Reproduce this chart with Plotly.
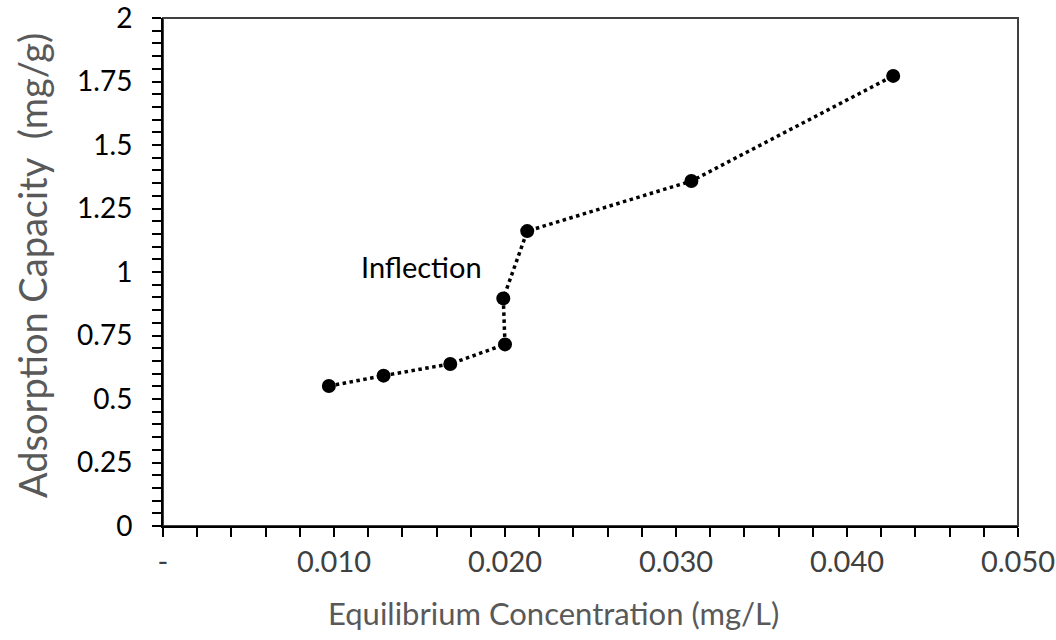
import plotly.graph_objects as go

conc = [0.0097, 0.0129, 0.0168, 0.0200, 0.0199, 0.0213, 0.0309, 0.0427]
capacity = [0.551, 0.592, 0.638, 0.715, 0.896, 1.161, 1.358, 1.772]

x_tickvals = [0, 0.01, 0.02, 0.03, 0.04, 0.05]
x_ticktext = ["-", "0.010", "0.020", "0.030", "0.040", "0.050"]
y_tickvals = [0, 0.25, 0.5, 0.75, 1, 1.25, 1.5, 1.75, 2]
y_ticktext = ["0", "0.25", "0.5", "0.75", "1", "1.25", "1.5", "1.75", "2"]

FONT = "Lato"

fig = go.Figure()
fig.add_trace(go.Scatter(
    x=conc, y=capacity, mode="lines+markers",
    line=dict(color="black", width=3.5, dash="3.5px,3.5px"),
    marker=dict(color="black", size=14),
    showlegend=False,
))

fig.add_annotation(x=0.0151, y=1.02, xref="x", yref="y", text="Inflection",
                   showarrow=False, font=dict(family=FONT, size=29, color="black"))

# axis titles
fig.add_annotation(x=(553 - 163) / 855, y=(526 - 613) / 508, xref="paper", yref="paper",
                   text="Equilibrium Concentration (mg/L)", showarrow=False,
                   xanchor="center", yanchor="middle",
                   font=dict(family=FONT, size=31, color="#595959"))
fig.add_annotation(x=(32 - 163) / 855, y=(526 - 266) / 508, xref="paper", yref="paper",
                   text="Adsorption Capacity  (mg/g)", showarrow=False, textangle=-90,
                   xanchor="center", yanchor="middle",
                   font=dict(family=FONT, size=38, color="#595959"))

fig.add_shape(type="rect", xref="paper", yref="paper", x0=0, y0=0, x1=1, y1=1,
              line=dict(color="#404040", width=2), layer="below")

fig.update_layout(
    width=1056, height=640,
    margin=dict(l=163, r=38, t=18, b=114),
    plot_bgcolor="white", paper_bgcolor="white",
    font=dict(family=FONT),
)
fig.update_xaxes(
    range=[0, 0.05], tickvals=x_tickvals, ticktext=x_ticktext,
    showgrid=False, zeroline=False, automargin=False,
    showline=True, linecolor="black", linewidth=2,
    ticks="outside", ticklen=9, tickwidth=2, tickcolor="black",
    minor=dict(dtick=0.002, tick0=0, ticks="outside", ticklen=9, tickwidth=2, tickcolor="black", showgrid=False),
    tickfont=dict(family=FONT, size=29, color="#404040"),
    ticklabelstandoff=0, ticklabeloverflow="allow",
)
fig.update_yaxes(
    range=[0, 2], tickvals=y_tickvals, ticktext=y_ticktext,
    showgrid=False, zeroline=False, automargin=False,
    showline=True, linecolor="black", linewidth=2,
    ticks="outside", ticklen=9, tickwidth=2, tickcolor="black",
    minor=dict(dtick=0.05, tick0=0, ticks="outside", ticklen=9, tickwidth=2, tickcolor="black", showgrid=False),
    tickfont=dict(family=FONT, size=28, color="black"),
    ticklabelstandoff=14, ticklabeloverflow="allow",
)

fig.write_html("out.html")
